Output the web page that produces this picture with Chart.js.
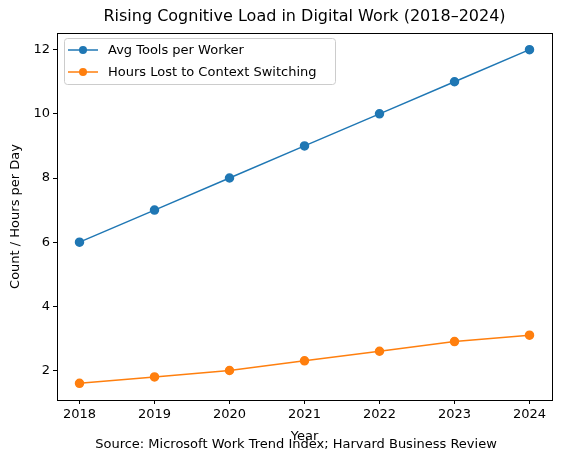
<!DOCTYPE html>
<html><head><meta charset="utf-8">
<script src="https://cdn.jsdelivr.net/npm/chart.js@4"></script>
<style>body{margin:0;background:#fff}#wrap{width:562px;height:462px}</style>
</head><body><div id="wrap"><canvas id="c" width="562" height="462"></canvas></div>
<script>
const years = [2018, 2019, 2020, 2021, 2022, 2023, 2024];
const toolsPerWorker = [6, 7, 8, 9, 10, 11, 12];
const hoursLost = [1.6, 1.8, 2.0, 2.3, 2.6, 2.9, 3.1];
const yTicks = [2, 4, 6, 8, 10, 12];
const FONT = 'DejaVu Sans';

// texts, frame and legend drawn matplotlib-style
const decor = {
  id: 'decor',
  afterDraw(chart) {
    const ctx = chart.ctx, a = chart.chartArea;
    ctx.save();
    ctx.strokeStyle = '#000'; ctx.lineWidth = 1;
    ctx.strokeRect(a.left + 0.5, a.top + 0.5, a.right - a.left, a.bottom - a.top);
    ctx.fillStyle = '#000'; ctx.textAlign = 'center'; ctx.textBaseline = 'middle';
    ctx.font = '16px ' + FONT;
    ctx.fillText('Rising Cognitive Load in Digital Work (2018–2024)', (a.left + a.right) / 2, 17);
    ctx.font = '13px ' + FONT;
    ctx.fillText('Year', (a.left + a.right) / 2, 437);
    ctx.fillText('Source: Microsoft Work Trend Index; Harvard Business Review', 296, 445);
    ctx.save(); ctx.translate(16, (a.top + a.bottom) / 2); ctx.rotate(-Math.PI / 2);
    ctx.fillText('Count / Hours per Day', 0, 0); ctx.restore();
    // legend
    const lx = a.left + 7, ly = a.top + 5;
    ctx.fillStyle = 'rgba(255,255,255,0.8)'; ctx.strokeStyle = '#ccc';
    ctx.beginPath(); ctx.roundRect(lx + 0.5, ly + 0.5, 271, 46, 3); ctx.fill(); ctx.stroke();
    chart.data.datasets.forEach((ds, i) => {
      const y = ly + 12 + i * 22;
      ctx.strokeStyle = ds.borderColor; ctx.lineWidth = 1.5;
      ctx.beginPath(); ctx.moveTo(lx + 4, y); ctx.lineTo(lx + 34, y); ctx.stroke();
      ctx.fillStyle = ds.borderColor;
      ctx.beginPath(); ctx.arc(lx + 19, y, 4, 0, Math.PI * 2); ctx.fill();
      ctx.fillStyle = '#000'; ctx.textAlign = 'left';
      ctx.fillText(ds.label, lx + 44, y + 1);
    });
    ctx.restore();
  }
};

new Chart(document.getElementById('c'), {
  type: 'line',
  data: {
    datasets: [
      { label: 'Avg Tools per Worker', data: years.map((y, i) => ({ x: y, y: toolsPerWorker[i] })),
        borderColor: '#1f77b4', backgroundColor: '#1f77b4', borderWidth: 1.5, pointRadius: 4, pointHoverRadius: 4 },
      { label: 'Hours Lost to Context Switching', data: years.map((y, i) => ({ x: y, y: hoursLost[i] })),
        borderColor: '#ff7f0e', backgroundColor: '#ff7f0e', borderWidth: 1.5, pointRadius: 4, pointHoverRadius: 4 }
    ]
  },
  options: {
    responsive: false, animation: false,
    layout: { padding: { left: 0, right: 10, top: 33, bottom: 0 } },
    plugins: { legend: { display: false }, tooltip: { enabled: false } },
    scales: {
      x: {
        type: 'linear', min: 2017.7, max: 2024.3,
        afterBuildTicks: s => { s.ticks = years.map(v => ({ value: v })); },
        afterFit: s => { s.height = 62; },
        grid: { drawOnChartArea: false, tickLength: 4, color: '#000' },
        border: { color: '#000' },
        ticks: { color: '#000', font: { family: FONT, size: 13 }, padding: 3, callback: v => String(v) }
      },
      y: {
        min: 1.08, max: 12.52,
        afterBuildTicks: s => { s.ticks = yTicks.map(v => ({ value: v })); },
        afterFit: s => { s.width = 57; },
        grid: { drawOnChartArea: false, tickLength: 4, color: '#000' },
        border: { color: '#000' },
        ticks: { color: '#000', font: { family: FONT, size: 13 }, padding: 3 }
      }
    }
  },
  plugins: [decor]
});
</script></body></html>
